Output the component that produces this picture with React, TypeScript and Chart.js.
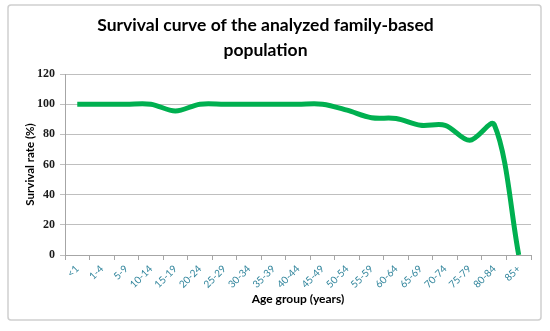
import React, { useEffect, useRef } from "react";
import { Chart, registerables } from "chart.js";

Chart.register(...registerables);

const ageGroups = [
  "<1", "1-4", "5-9", "10-14", "15-19", "20-24", "25-29", "30-34", "35-39", "40-44",
  "45-49", "50-54", "55-59", "60-64", "65-69", "70-74", "75-79", "80-84", "85+",
];
const survivalRate = [100, 100, 100, 100, 95.5, 100, 100, 100, 100, 100, 100, 96, 91, 90.5, 86, 86, 76, 86.5, 0];
const yTicks = [0, 20, 40, 60, 80, 100, 120];
const titleLines = ["Survival curve of the analyzed family-based", "population"];
const xTitle = "Age group (years)";
const yTitle = "Survival rate (%)";

const frame = {
  id: "frame",
  beforeDraw(chart: any) {
    const ctx = chart.ctx;
    ctx.save();
    ctx.fillStyle = "#ffffff";
    ctx.fillRect(0, 0, chart.width, chart.height);
    ctx.strokeStyle = "#cfcfcf";
    ctx.lineWidth = 1.5;
    ctx.beginPath();
    (ctx as any).roundRect(8, 5, 533, 315, 3);
    ctx.stroke();
    ctx.restore();
  },
};

export default function App() {
  const ref = useRef<HTMLCanvasElement | null>(null);
  useEffect(() => {
    if (!ref.current) return;
    const chart = new Chart(ref.current, {
      type: "line",
      data: {
        labels: ageGroups,
        datasets: [
          {
            data: survivalRate,
            borderColor: "#00b050",
            borderWidth: 5,
            pointRadius: 0,
            tension: 0.33,
            fill: false,
          },
        ],
      },
      plugins: [frame],
      options: {
        animation: false,
        responsive: false,
        layout: { padding: { top: 0, left: 0, right: 19, bottom: 0 } },
        plugins: {
          legend: { display: false },
          tooltip: { enabled: false },
          title: {
            display: true,
            text: titleLines,
            color: "#000000",
            font: { family: "Lato", size: 17.5, weight: "bold", lineHeight: "25px" },
            padding: { top: 12.5, bottom: 11.5 },
          },
        },
        scales: {
          x: {
            offset: true,
            afterFit: (s: any) => {
              s.height = 76;
            },
            grid: {
              offset: true,
              drawOnChartArea: false,
              drawTicks: true,
              tickLength: 5,
              color: "#a6a6a6",
            },
            border: { color: "#a6a6a6", width: 1 },
            ticks: {
              autoSkip: false,
              maxRotation: 45,
              minRotation: 45,
              padding: 3,
              color: "#31859c",
              font: { family: "Lato", size: 10 },
            },
            title: {
              display: true,
              text: xTitle,
              color: "#000000",
              font: { family: "Lato", size: 12, weight: "bold" },
              padding: { top: 0, bottom: 24.8 },
            },
          },
          y: {
            min: 0,
            max: 120,
            afterFit: (s: any) => {
              s.width = 65;
            },
            afterBuildTicks: (s: any) => {
              s.ticks = yTicks.map((v) => ({ value: v }));
            },
            grid: {
              color: "#bfbfbf",
              lineWidth: 1,
              tickLength: 5,
            },
            border: { color: "#a6a6a6", width: 1 },
            ticks: {
              padding: 5,
              color: "#1a1a1a",
              font: { family: "Liberation Serif", size: 12, weight: "bold" },
            },
            title: {
              display: true,
              text: yTitle,
              color: "#000000",
              font: { family: "Lato", size: 11.5, weight: "bold" },
              padding: { top: 23, bottom: 0 },
            },
          },
        },
      },
    });
    return () => chart.destroy();
  }, []);
  return (
    <div style={{ position: "absolute", left: 0, top: 0, width: 550, height: 331 }}>
      <canvas ref={ref} width={550} height={331} style={{ width: 550, height: 331, display: "block" }} />
    </div>
  );
}
